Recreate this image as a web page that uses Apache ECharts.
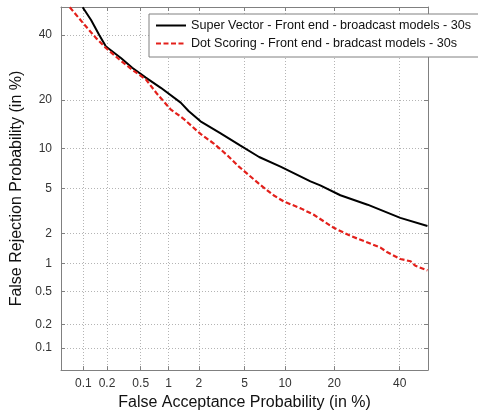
<!DOCTYPE html>
<html>
<head>
<meta charset="utf-8">
<style>
  html, body { margin: 0; padding: 0; background: #fff; }
  #chart { width: 478px; height: 416px; }
</style>
<script src="https://cdn.jsdelivr.net/npm/echarts@6/dist/echarts.min.js"></script>
</head>
<body>
<div id="chart"></div>
<script>
// tick labels (in %), same on both axes
var tickLabels = [0.1, 0.2, 0.5, 1, 2, 5, 10, 20, 40];

// Super Vector curve: false acceptance (%) / false rejection (%)
var svFA = [0.098, 0.126, 0.16, 0.194, 0.295, 0.40, 0.57, 0.83, 1.33, 1.59, 2.07, 3.15, 4.6, 6.5, 9.3, 14.6, 16.7, 21.6, 29.4, 40.2, 49.8];
var svFR = [49.9, 45.3, 40.0, 36.0, 32.2, 29.1, 26.1, 23.2, 19.3, 17.3, 15.0, 12.6, 10.5, 8.7, 7.4, 5.7, 5.3, 4.4, 3.66, 2.8, 2.36];

// Dot Scoring curve
var dsFA = [0.066, 0.1, 0.146, 0.194, 0.283, 0.40, 0.57, 0.76, 1.05, 1.43, 2.07, 2.74, 3.6, 4.5, 6.7, 8.3, 9.8, 12.7, 15.2, 19.9, 24.4, 29.4, 33.5, 35.8, 40.2, 43.8, 45.5, 49.8];
var dsFR = [49.9, 44.1, 38.9, 35.5, 31.7, 28.5, 25.6, 21.5, 17.7, 15.5, 12.5, 10.8, 8.95, 7.4, 5.3, 4.4, 3.9, 3.4, 3.0, 2.27, 1.9, 1.64, 1.46, 1.31, 1.12, 1.06, 0.95, 0.85];

// normal deviate scale (probit) -- Acklam approximation
function probit(p) {
  var a = [-39.69683028665376, 220.9460984245205, -275.9285104469687, 138.3577518672690, -30.66479806614716, 2.506628277459239];
  var b = [-54.47609879822406, 161.5858368580409, -155.6989798598866, 66.80131188771972, -13.28068155288572];
  var c = [-0.007784894002430293, -0.3223964580411365, -2.400758277161838, -2.549732539343734, 4.374664141464968, 2.938163982698783];
  var d = [0.007784695709041462, 0.3224671290700398, 2.445134137142996, 3.754408661907416];
  var q, r;
  if (p < 0.02425) {
    q = Math.sqrt(-2 * Math.log(p));
    return (((((c[0]*q+c[1])*q+c[2])*q+c[3])*q+c[4])*q+c[5]) / ((((d[0]*q+d[1])*q+d[2])*q+d[3])*q+1);
  }
  if (p > 1 - 0.02425) {
    q = Math.sqrt(-2 * Math.log(1 - p));
    return -(((((c[0]*q+c[1])*q+c[2])*q+c[3])*q+c[4])*q+c[5]) / ((((d[0]*q+d[1])*q+d[2])*q+d[3])*q+1);
  }
  q = p - 0.5; r = q * q;
  return (((((a[0]*r+a[1])*r+a[2])*r+a[3])*r+a[4])*r+a[5])*q / (((((b[0]*r+b[1])*r+b[2])*r+b[3])*r+b[4])*r+1);
}

var tickPos = tickLabels.map(function (t) { return probit(t / 100); });
var axisMin = probit(0.0005);
var axisMax = 0; // 50 %

function pairs(fa, fr) {
  return fa.map(function (v, i) { return [probit(v / 100), probit(fr[i] / 100)]; });
}

function labelOf(v) {
  var best = 0;
  tickPos.forEach(function (p, i) {
    if (Math.abs(p - v) < Math.abs(tickPos[best] - v)) best = i;
  });
  return String(tickLabels[best]);
}

var font = 'Liberation Sans, Arial, sans-serif';
var frameColor = '#808080';

function makeAxis(pos, main, name) {
  var ax = {
    type: 'value',
    position: pos,
    min: axisMin,
    max: axisMax,
    axisLine: { show: true, onZero: false, lineStyle: { color: frameColor, width: 1 } },
    axisTick: { show: true, inside: true, length: 4, customValues: tickPos, lineStyle: { color: frameColor } },
    axisLabel: {
      show: main,
      customValues: tickPos,
      formatter: labelOf,
      color: '#333',
      fontSize: 12,
      fontFamily: font,
      margin: pos === 'bottom' ? 8 : 9
    },
    splitLine: {
      show: main,
      lineStyle: { color: '#b4b4b4', type: [1, 2], width: 1 }
    }
  };
  if (main) {
    ax.name = name;
    ax.nameLocation = 'middle';
    ax.nameTextStyle = { fontSize: 16, fontFamily: font, color: '#111' };
    ax.nameGap = pos === 'bottom' ? 21 : 34;
  }
  return ax;
}

var chart = echarts.init(document.getElementById('chart'));
chart.setOption({
  animation: false,
  grid: { left: 61, top: 7, width: 367, height: 367 },
  legend: {
    orient: 'vertical',
    left: 149,
    top: 14,
    padding: [5, 16, 7, 6],
    itemWidth: 30,
    itemHeight: 14,
    itemGap: 5,
    backgroundColor: '#fff',
    borderColor: frameColor,
    borderWidth: 1,
    borderRadius: 0,
    itemStyle: { opacity: 0 },
    textStyle: { fontSize: 12.6, fontFamily: font, color: '#111' },
    data: ['Super Vector - Front end - broadcast models - 30s', 'Dot Scoring - Front end - bradcast models - 30s']
  },
  xAxis: [
    makeAxis('bottom', true, 'False Acceptance Probability (in %)'),
    makeAxis('top', false)
  ],
  yAxis: [
    makeAxis('left', true, 'False Rejection Probability (in %)'),
    makeAxis('right', false)
  ],
  series: [
    {
      name: 'Super Vector - Front end - broadcast models - 30s',
      type: 'line',
      data: pairs(svFA, svFR),
      symbol: 'none',
      clip: true,
      lineStyle: { color: '#000', width: 2 },
      itemStyle: { color: '#000' }
    },
    {
      name: 'Dot Scoring - Front end - bradcast models - 30s',
      type: 'line',
      data: pairs(dsFA, dsFR),
      symbol: 'none',
      clip: true,
      lineStyle: { color: '#e3201b', width: 2.2, type: [5, 2.5] },
      itemStyle: { color: '#e3201b' }
    }
  ]
});
</script>
</body>
</html>
